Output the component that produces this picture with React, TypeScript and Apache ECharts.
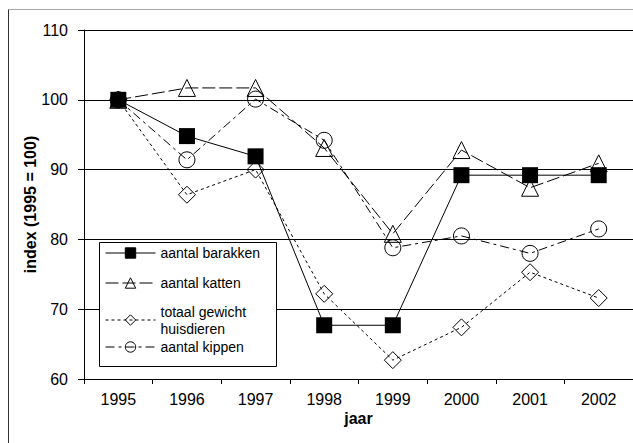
import React, { useEffect, useRef } from "react";
import * as echarts from "echarts";

const years = ["1995", "1996", "1997", "1998", "1999", "2000", "2001", "2002"];
const barakken = [100, 94.8, 91.9, 67.7, 67.7, 89.2, 89.2, 89.2];
const katten = [100, 101.7, 101.7, 93.1, 80.8, 92.8, 87.4, 90.9];
const totaalGewicht = [100, 86.4, 90.0, 72.2, 62.7, 67.4, 75.3, 71.6];
const kippen = [100, 91.4, 100.1, 94.2, 78.8, 80.5, 78.0, 81.5];

const names = ["aantal barakken", "aantal katten", "totaal gewicht\nhuisdieren", "aantal kippen"];

const FONT = "'Liberation Sans', Arial, sans-serif";

export default function App() {
  const ref = useRef<HTMLDivElement>(null);
  useEffect(() => {
    if (!ref.current) return;
    const chart = echarts.init(ref.current, undefined, { renderer: "svg" });
    const hollow = { color: "rgba(0,0,0,0)", borderColor: "#000", borderWidth: 1 };
    const legendBase = {
      orient: "vertical",
      left: 105,
      padding: 0,
      itemWidth: 50,
      itemHeight: 13,
      selectedMode: false,
      backgroundColor: "transparent",
      lineStyle: { width: 1 },
      itemStyle: { borderWidth: 1 },
      textStyle: { fontFamily: FONT, fontSize: 14, color: "#000", lineHeight: 17 },
    };
    chart.setOption({
      animation: false,
      backgroundColor: "#fff",
      textStyle: { fontFamily: FONT },
      grid: { left: 84, top: 30, bottom: 64, right: -5.4, containLabel: false },
      graphic: [
        { type: "line", shape: { x1: 8.5, y1: 9.5, x2: 640, y2: 9.5 }, style: { stroke: "#aaa", lineWidth: 1 }, z: 1 },
        { type: "line", shape: { x1: 8.5, y1: 9.5, x2: 8.5, y2: 450 }, style: { stroke: "#333", lineWidth: 1 }, z: 1 },
        { type: "rect", shape: { x: 99.5, y: 242.5, width: 177, height: 124 }, style: { fill: "#fff", stroke: "#000", lineWidth: 1 }, z: 3 },
      ],
      legend: [
        { ...legendBase, top: 253 - 8.5, data: [names[0]] },
        { ...legendBase, top: 283 - 8.5, data: [names[1]] },
        { ...legendBase, top: 320 - 17, data: [names[2]] },
        { ...legendBase, top: 347 - 8.5, data: [names[3]] },
      ],
      xAxis: {
        type: "category",
        data: years,
        boundaryGap: true,
        axisLine: { lineStyle: { color: "#000", width: 1 } },
        axisTick: { show: true, length: 5, inside: false, lineStyle: { color: "#000" } },
        axisLabel: { fontFamily: FONT, fontSize: 16, color: "#000", margin: 12 },
        name: "jaar",
        nameLocation: "middle",
        nameGap: 31,
        nameMoveOverlap: false,
        nameTextStyle: { fontFamily: FONT, fontSize: 16, fontWeight: "bold", color: "#000" },
        splitLine: { show: false },
      },
      yAxis: {
        type: "value",
        min: 60,
        max: 110,
        interval: 10,
        axisLine: { show: true, lineStyle: { color: "#000", width: 1 } },
        axisTick: { show: true, length: 6, inside: false, lineStyle: { color: "#000" } },
        axisLabel: { fontFamily: FONT, fontSize: 16, color: "#000", margin: 16 },
        splitLine: { show: true, lineStyle: { color: "#000", width: 1 } },
        name: "index (1995 = 100)",
        nameLocation: "middle",
        nameRotate: 90,
        nameGap: 46,
        nameMoveOverlap: false,
        nameTextStyle: { fontFamily: FONT, fontSize: 16, fontWeight: "bold", color: "#000" },
      },
      series: [
        {
          name: names[0],
          type: "line",
          data: barakken,
          symbol: "rect",
          symbolSize: 16,
          lineStyle: { color: "#000", width: 1, type: "solid" },
          itemStyle: { color: "#000", borderColor: "#000", borderWidth: 0 },
          z: 5,
        },
        {
          name: names[1],
          type: "line",
          data: katten,
          symbol: "triangle",
          symbolSize: 17,
          lineStyle: { color: "#000", width: 1, type: [13, 4] },
          itemStyle: hollow,
          z: 4,
        },
        {
          name: names[2],
          type: "line",
          data: totaalGewicht,
          symbol: "diamond",
          symbolSize: 17,
          lineStyle: { color: "#000", width: 1, type: [3, 3] },
          itemStyle: hollow,
          z: 4,
        },
        {
          name: names[3],
          type: "line",
          data: kippen,
          symbol: "circle",
          symbolSize: 16,
          lineStyle: { color: "#000", width: 1, type: [9, 4, 3, 4] },
          itemStyle: hollow,
          z: 4,
        },
      ],
    });
    return () => chart.dispose();
  }, []);
  return (
    <div
      ref={ref}
      style={{ position: "fixed", left: 0, top: 0, width: 633, height: 443 }}
    />
  );
}
